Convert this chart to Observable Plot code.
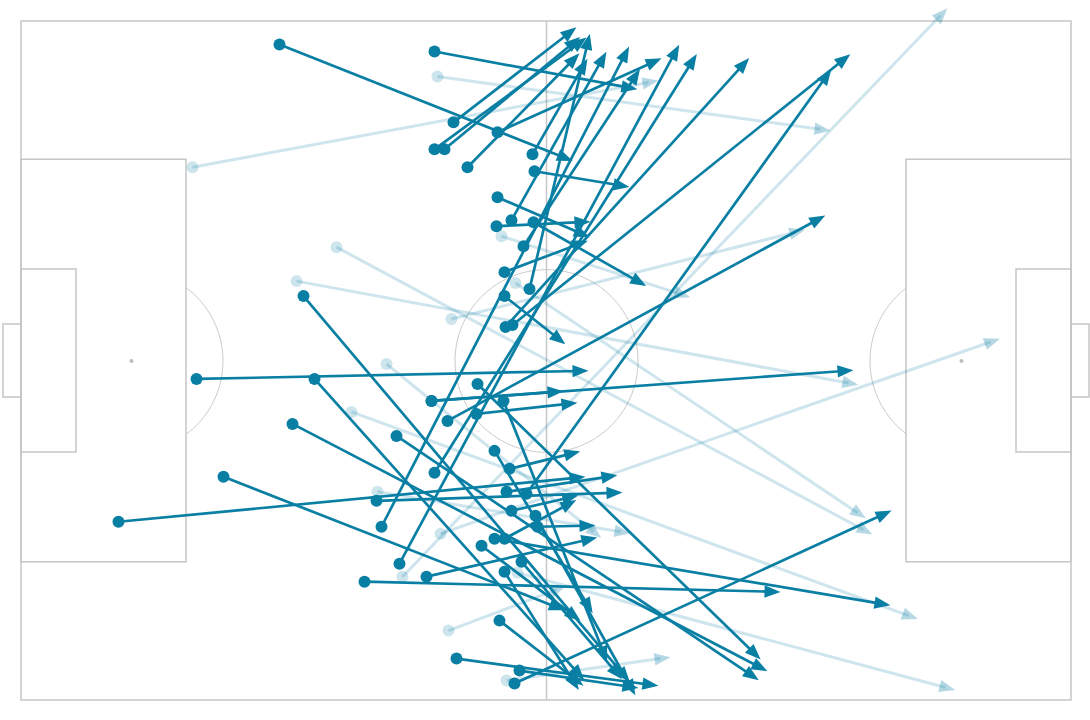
<!DOCTYPE html>
<html><head><meta charset="utf-8">
<script src="https://cdn.jsdelivr.net/npm/d3@7"></script>
<script src="https://cdn.jsdelivr.net/npm/@observablehq/plot@0.6"></script>
<style>body{margin:0;background:#fff;font-family:"Noto Sans",sans-serif}</style>
</head><body><div id="chart"></div>
<script>
// Pitch size (metres)
const pitchLength = 105, pitchWidth = 68;

// Completed passes (metres: x along pitch, y from top touchline)
const compStartX = [25.8,41.3,43.2,41.3,42.3,47.6,44.6,51.1,51.3,47.6,49.0,47.5,51.2,50.2,48.3,48.3,50.8,48.4,49.1,28.2,17.5,29.3,27.1,45.6,41.0,41.0,48.2,42.6,45.5,37.5,47.3,48.8,41.3,20.2,9.7,35.5,36.0,37.8,34.3,50.5,48.5,49.0,51.4,51.6,47.3,48.3,46.0,50.0,40.5,48.3,47.8,43.5,49.8,49.3];
const compStartY = [2.3,3.0,10.1,12.8,12.8,11.1,14.6,13.3,15.0,17.6,19.9,20.5,20.1,22.5,25.1,27.5,26.8,30.6,30.4,27.5,35.8,35.8,40.3,36.3,38.0,38.0,38.0,40.0,39.3,41.5,43.0,44.8,45.2,45.6,50.1,48.0,50.6,54.3,56.1,47.3,47.1,49.0,49.5,50.6,51.8,51.8,52.5,54.1,55.6,55.1,60.0,63.8,65.0,66.3];
const compEndX   = [54.2,60.6,54.7,55.7,55.1,63.1,55.1,56.1,59.8,55.9,58.0,55.9,61.6,61.3,55.7,53.6,56.6,72.1,82.1,60.2,55.7,55.6,73.7,73.2,53.2,82.2,58.2,79.5,54.6,72.9,56.6,54.9,67.0,53.4,55.4,59.1,60.3,65.3,74.9,80.4,58.6,54.7,60.9,56.4,85.9,54.6,55.1,59.4,56.6,55.2,55.4,62.7,60.7,86.1];
const compEndY   = [13.6,6.6,1.2,2.2,2.2,4.1,3.9,4.6,16.4,21.2,3.9,20.1,26.0,5.6,22.3,31.7,2.2,4.4,3.9,65.4,35.0,65.2,64.6,63.2,37.1,35.0,63.2,19.9,38.3,65.4,58.4,43.3,4.1,58.6,45.7,47.2,3.4,3.2,57.1,5.6,45.6,47.7,66.6,50.5,58.3,48.4,59.4,65.1,51.9,66.1,65.9,66.4,66.6,49.4];

// Incomplete passes
const incStartX = [17.1,41.6,48.0,49.4,31.5,27.5,43.0,36.5,33.0,41.9,48.5,42.7,49.6,38.1,35.6];
const incStartY = [14.6,5.5,21.5,26.2,22.6,26.0,29.8,34.3,39.1,51.3,66.0,61.0,55.2,55.6,47.1];
const incEndX   = [62.7,79.9,65.9,83.6,84.2,82.7,77.4,57.2,88.7,96.9,63.9,53.5,92.4,91.9,59.9];
const incEndY   = [6.1,10.8,27.3,49.2,50.9,36.2,21.1,51.1,59.5,32.1,63.8,56.9,66.7,-0.6,51.1];

const passColor = "#0a7fa4";
const lineColor = "#c6c6c6";

function build(sx, sy, ex, ey) {
  return sx.map((x, i) => ({
    x1: x, y1: sy[i], x2: ex[i], y2: ey[i],
    angle: Math.atan2(ey[i] - sy[i], ex[i] - x) * 180 / Math.PI + 90
  }));
}
const completed = build(compStartX, compStartY, compEndX, compEndY);
const incomplete = build(incStartX, incStartY, incEndX, incEndY);

// Arrowhead symbol: pointed triangle, tip toward -y
const arrowHead = {
  draw(context) {
    context.moveTo(0, -10);
    context.lineTo(6.2, 6);
    context.lineTo(-6.2, 6);
    context.closePath();
  }
};

// Pitch geometry
const boxDepth = 16.5, boxWidth = 40.32, sixDepth = 5.5, sixWidth = 18.32, goalWidth = 7.32, goalDepth = 1.8;
const cy = pitchWidth / 2, circleR = 9.15, spot = 11;
const rects = [
  {x1: 0, x2: pitchLength, y1: 0, y2: pitchWidth},
  {x1: 0, x2: boxDepth, y1: cy - boxWidth/2, y2: cy + boxWidth/2},
  {x1: pitchLength - boxDepth, x2: pitchLength, y1: cy - boxWidth/2, y2: cy + boxWidth/2},
  {x1: 0, x2: sixDepth, y1: cy - sixWidth/2, y2: cy + sixWidth/2},
  {x1: pitchLength - sixDepth, x2: pitchLength, y1: cy - sixWidth/2, y2: cy + sixWidth/2},
  {x1: -goalDepth, x2: 0, y1: cy - goalWidth/2, y2: cy + goalWidth/2},
  {x1: pitchLength, x2: pitchLength + goalDepth, y1: cy - goalWidth/2, y2: cy + goalWidth/2}
];
const circle = d3.range(0, 361, 3).map(a => ({x: pitchLength/2 + circleR*Math.cos(a*Math.PI/180), y: cy + circleR*Math.sin(a*Math.PI/180)}));
const arcA = Math.acos((boxDepth - spot) / circleR) * 180 / Math.PI;
const arcL = d3.range(-arcA, arcA + 0.01, arcA / 20).map(a => ({x: spot + circleR*Math.cos(a*Math.PI/180), y: cy + circleR*Math.sin(a*Math.PI/180)}));
const arcR = d3.range(-arcA, arcA + 0.01, arcA / 20).map(a => ({x: pitchLength - spot - circleR*Math.cos(a*Math.PI/180), y: cy + circleR*Math.sin(a*Math.PI/180)}));

const chart = Plot.plot({
  width: 1090, height: 720, margin: 0,
  x: {domain: [0, pitchLength], range: [21, 1071], axis: null},
  y: {domain: [0, pitchWidth], range: [21, 700], axis: null},
  marks: [
    Plot.rect(rects, {x1: "x1", x2: "x2", y1: "y1", y2: "y2", fill: "none", stroke: lineColor, strokeWidth: 1.5}),
    Plot.ruleX([pitchLength/2], {y1: 0, y2: pitchWidth, stroke: lineColor, strokeWidth: 1.5}),
    Plot.line(circle, {x: "x", y: "y", stroke: "#c4c4c4", strokeWidth: 0.9}),
    Plot.line(arcL, {x: "x", y: "y", stroke: "#c4c4c4", strokeWidth: 0.9}),
    Plot.line(arcR, {x: "x", y: "y", stroke: "#c4c4c4", strokeWidth: 0.9}),
    Plot.dot([{x: spot, y: cy}, {x: pitchLength - spot, y: cy}], {x: "x", y: "y", r: 2, fill: "#bdbdbd"}),
    // incomplete passes
    Plot.link(incomplete, {x1: "x1", y1: "y1", x2: "x2", y2: "y2", stroke: passColor, strokeOpacity: 0.2, strokeWidth: 3}),
    Plot.dot(incomplete, {x: "x1", y: "y1", r: 6, fill: passColor, fillOpacity: 0.2}),
    Plot.dot(incomplete, {x: "x2", y: "y2", r: 6, symbol: arrowHead, rotate: "angle", fill: passColor, fillOpacity: 0.3, stroke: "none"}),
    // completed passes
    Plot.link(completed, {x1: "x1", y1: "y1", x2: "x2", y2: "y2", stroke: passColor, strokeWidth: 2.7}),
    Plot.dot(completed, {x: "x1", y: "y1", r: 6, fill: passColor}),
    Plot.dot(completed, {x: "x2", y: "y2", r: 6, symbol: arrowHead, rotate: "angle", fill: passColor, stroke: "none"})
  ]
});
document.getElementById("chart").append(chart);
</script>
</body></html>
